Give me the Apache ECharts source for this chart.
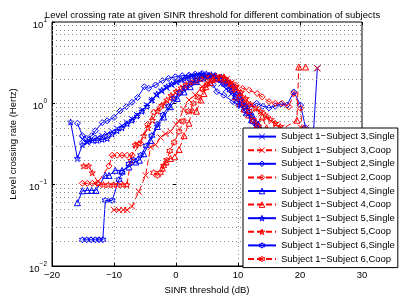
<!DOCTYPE html>
<html><head><meta charset="utf-8">
<script src="https://cdn.jsdelivr.net/npm/echarts@6/dist/echarts.min.js"></script>
<style>html,body{margin:0;padding:0;background:#fff}#c{width:399px;height:300px}</style>
</head><body><div id="c"></div>
<script>
var titleText = 'Level crossing rate at given SINR threshold for different combination of subjects';
var xTicks = [-20, -10, 0, 10, 20, 30];
var yTicks = [0.01, 0.1, 1, 10];

var seriesNames = ['Subject 1\u2212Subject 3,Single','Subject 1\u2212Subject 3,Coop','Subject 1\u2212Subject 2,Single','Subject 1\u2212Subject 2,Coop','Subject 1\u2212Subject 4,Single','Subject 1\u2212Subject 4,Coop','Subject 1\u2212Subject 5,Single','Subject 1\u2212Subject 5,Coop','Subject 1\u2212Subject 6,Single','Subject 1\u2212Subject 6,Coop'];

var xS3Single = [-15.1,-14.3,-13.5,-12.7,-11.9,-11.1,-10.3,-9.5,-8.7,-7.9,-7.1,-6.3,-5.5,-4.7,-3.9,-3.1,-2.3,-1.5,-0.7,0.1,0.9,1.7,2.5,3.3,4.1,4.9,5.7,6.5,7.3,8.1,8.9,9.7,10.5,11.3,12.1,12.9,13.7,14.5,15.3,16.1,21.9,22.8];
var yS3Single = [0.36,0.33,0.35,0.38,0.4,0.42,0.45,0.49,0.53,0.58,0.64,0.72,0.82,0.95,1.1,1.25,1.4,1.55,1.7,1.82,1.95,2.05,2.15,2.22,2.25,2.2,2.1,1.95,1.75,1.5,1.3,1.1,0.92,0.76,0.62,0.5,0.42,0.35,0.3,0.26,0.2,2.7];

var xS3Coop = [-10.0,-9.2,-8.5,-7.9,-7.1,-6.0,-4.9,-4.1,-3.3,-2.5,-1.7,-0.9,0.0,0.45,1.2,2.1,3.1,4.2,5.0,5.8,6.6,7.4,8.2,9.0,9.8,10.6,11.4,12.2,13.0,13.8,14.6,15.4,16.2,17.0,17.8,20.2,21.0,21.8,22.8];
var yS3Coop = [0.049,0.049,0.049,0.049,0.054,0.082,0.13,0.29,0.31,0.38,0.42,0.45,0.55,0.6,0.85,1.1,1.27,1.6,1.8,1.95,2.05,2.1,2.0,1.8,1.55,1.3,1.1,0.95,0.85,0.75,0.66,0.6,0.55,0.5,0.45,0.5,0.5,'-',2.7];

var xS2Single = [-15.9,-15.1,-14.4,-13.6,-13.0,-11.9,-11.1,-10.0,-9.0,-8.0,-7.1,-6.2,-5.1,-4.4,-3.3,-2.2,-1.2,-0.1,1.0,2.1,3.1,4.2,5.2,6.0,6.6,7.7,9.2,10.1,11.0,12.0,13.0,14.0,15.0,16.0,16.9,17.9,19.0,20.1,20.9,21.6];
var yS2Single = [0.57,0.4,0.37,0.4,0.46,0.58,0.61,0.67,0.81,0.91,1.03,1.18,1.6,1.53,1.68,1.9,2.03,2.12,2.19,2.22,2.29,2.33,2.1,1.7,1.39,1.26,1.05,0.95,0.83,0.9,1.0,0.92,0.88,0.92,0.98,0.95,1.38,0.95,0.5,0.2];

var xS2Coop = [-15.1,-14.3,-13.5,-12.7,-10.8,-10.3,-9.5,-8.7,-7.9,-7.1,-5.7,-4.6,-3.6,-2.5,-1.6,-0.6,0.4,1.3,2.2,3.1,4.0,4.9,5.8,6.7,7.6,8.5,9.6,10.7,11.8,13.1,13.9,15.0,16.0,17.1,18.2,19.0,20.1,20.5];
var yS2Coop = [0.104,0.104,0.104,0.104,0.17,0.23,0.23,0.23,0.23,0.23,0.32,0.55,0.78,0.9,1.0,1.15,1.35,1.55,1.7,1.9,2.0,2.1,2.1,2.0,1.85,1.75,1.68,1.53,1.45,1.32,1.2,1.05,1.0,1.0,0.91,1.32,0.87,0.3];

var xS4Single = [-15.9,-15.1,-14.3,-13.6,-12.9,-11.4,-10.8,-9.8,-8.7,-7.6,-6.5,-5.9,-5.2,-4.1,-3.0,-2.0,-0.9,0.2,1.3,2.3,3.3,4.3,5.3,6.3,7.3,8.3,9.3,10.3,11.3,12.3,13.3,14.3,15.3];
var yS4Single = [0.06,0.084,0.085,0.085,0.085,0.13,0.13,0.15,0.15,0.165,0.19,0.2,0.24,0.35,0.52,0.68,0.91,1.15,1.38,1.6,1.85,2.05,2.2,2.2,2.1,1.9,1.6,1.25,0.95,0.72,0.55,0.42,0.33];

var xS4Coop = [-2.2,-1.6,-0.9,-0.2,0.5,1.3,2.1,2.6,3.3,4.0,4.5,4.8,5.5,6.3,7.0,7.7,8.4,9.0,9.6,10.3,11.0,11.7,12.4,13.1,13.9,14.6,15.3,19.5,19.8,20.9];
var yS4Coop = [0.16,0.19,0.21,0.22,0.27,0.4,0.57,0.83,0.8,1.1,1.32,1.6,1.8,2.0,2.1,2.1,1.9,1.5,1.2,1.0,0.85,0.72,0.62,0.55,0.68,0.5,0.4,0.62,2.8,2.8];

var xS5Single = [-17.0,-15.9,-15.1,-14.3,-13.5,-12.7,-11.9,-11.1,-10.3,-9.5,-8.7,-7.9,-7.1,-6.3,-5.5,-4.7,-3.9,-3.1,-2.3,-1.5,-0.7,0.1,0.9,1.7,2.5,3.3,4.1,4.9,5.7,6.5,7.3,8.1,8.9,9.7,10.5,11.3,12.1,12.9,13.7,14.5,15.3];
var yS5Single = [0.59,0.21,0.31,0.34,0.35,0.35,0.36,0.37,0.42,0.46,0.5,0.56,0.62,0.7,0.8,0.92,1.1,1.3,1.45,1.6,1.72,1.85,1.95,2.05,2.12,2.2,2.28,2.3,2.25,2.15,2.0,1.8,1.55,1.3,1.1,0.9,0.72,0.58,0.47,0.38,0.3];

var xS5Coop = [-14.9,-14.1,-13.5,-12.5,-11.7,-10.9,-10.1,-9.4,-8.6,-7.9,-7.3,-6.6,-6.0,-5.2,-4.5,-3.8,-3.0,-2.3,-1.5,-0.8,0.0,0.8,1.6,2.4,3.2,4.0,4.8,5.6,6.4,7.2,8.0,8.8,9.6,10.4,11.2,12.0,12.8,13.6,14.4,15.2,16.0,16.8,17.6];
var yS5Coop = [0.17,0.17,0.14,0.104,0.1,0.1,0.1,0.1,0.1,0.1,0.2,0.31,0.32,0.4,0.5,0.62,0.8,0.95,1.1,1.25,1.4,1.55,1.7,1.8,1.9,2.0,2.1,2.15,2.15,2.1,2.0,1.8,1.6,1.35,1.15,0.98,0.88,0.8,0.72,0.64,0.57,0.52,0.45];

var xS6Single = [-15.1,-14.4,-13.7,-13.0,-12.4,-11.8,-11.4,-10.3,-9.2,-8.7,-7.6,-6.8,-5.7,-4.8,-3.9,-3.0,-2.1,-1.2,-0.3,0.6,1.5,2.4,3.3,4.2,5.1,6.0,6.9,7.8,8.7,9.6,10.5,11.4,12.3,13.2,14.1,15.0];
var yS6Single = [0.021,0.021,0.021,0.021,0.021,0.021,0.064,0.064,0.115,0.14,0.18,0.2,0.23,0.3,0.4,0.55,0.72,0.92,1.15,1.35,1.55,1.75,1.9,2.05,2.15,2.1,1.95,1.7,1.45,1.2,0.95,0.75,0.6,0.47,0.38,0.3];

var xS6Coop = [-3.6,-3.0,-2.5,-2.0,-1.5,-1.0,-0.3,0.5,1.2,2.0,2.8,3.5,4.3,5.0,5.8,6.5,7.3,8.0,8.8,9.5,10.3,11.0,11.8,12.5,13.3,14.0,14.8];
var yS6Coop = [0.14,0.13,0.14,0.17,0.2,0.26,0.33,0.45,0.6,0.8,1.0,1.2,1.5,1.7,1.9,2.0,2.0,1.9,1.7,1.5,1.2,1.0,0.8,0.62,0.52,0.45,0.38];

var xs = [xS3Single,xS3Coop,xS2Single,xS2Coop,xS4Single,xS4Coop,xS5Single,xS5Coop,xS6Single,xS6Coop];
var ys = [yS3Single,yS3Coop,yS2Single,yS2Coop,yS4Single,yS4Coop,yS5Single,yS5Coop,yS6Single,yS6Coop];

var SYM = {
  x: 'path://M0,0L10,10M0,10L10,0',
  diamond: 'path://M5,0L10,5L5,10L0,5Z',
  triangle: 'path://M5,0L10,9L0,9Z',
  star: 'path://M5,0L6.18,3.38L9.76,3.45L6.9,5.62L7.94,9.05L5,7L2.06,9.05L3.1,5.62L0.24,3.45L3.82,3.38Z',
  hex: 'path://M5,0L6.44,2.5L9.33,2.5L7.89,5L9.33,7.5L6.44,7.5L5,10L3.56,7.5L0.67,7.5L2.11,5L0.67,2.5L3.56,2.5Z'
};
var symOrder = ['x','x','diamond','diamond','triangle','triangle','star','star','hex','hex'];
var FONT = 'Liberation Sans';
var GRIDC = '#8a8a8a';

var series = [];
for (var i = 0; i < 10; i++) {
  var coop = (i % 2 === 1);
  var col = coop ? '#ff0000' : '#0000ff';
  var data = [];
  for (var k = 0; k < xs[i].length; k++) data.push([xs[i][k], ys[i][k]]);
  series.push({
    name: seriesNames[i], type: 'line', data: data, z: 3,
    symbol: SYM[symOrder[i]], symbolSize: 6, showAllSymbol: true,
    connectNulls: false,
    itemStyle: { color: 'rgba(0,0,0,0)', borderColor: col, borderWidth: 1 },
    lineStyle: { color: col, width: 1, type: coop ? [6, 3] : 'solid' },
    emphasis: { disabled: true }, animation: false
  });
}
// minor log grid lines (axis decoration)
var minorVals = [];
for (var d = -2; d < 1; d++) for (var m = 2; m <= 9; m++) minorVals.push(m * Math.pow(10, d));
series.push({
  name: 'grid', type: 'line', data: [], z: 1, silent: true,
  markLine: { silent: true, symbol: 'none', animation: false, label: { show: false },
    lineStyle: { color: GRIDC, width: 1, type: [1, 3] },
    data: minorVals.map(function (v) { return { yAxis: v }; }) }
});

function minusify(s) { return String(s).replace('-', '\u2212'); }

var chart = echarts.init(document.getElementById('c'), null, { renderer: 'canvas' });
chart.setOption({
  animation: false,
  backgroundColor: '#fff',
  textStyle: { fontFamily: FONT },
  title: { text: titleText, left: 40, top: 5,
    textStyle: { fontSize: 9.5, fontWeight: 'normal', color: '#000', fontFamily: FONT } },
  grid: { left: 52, right: 37, top: 22, bottom: 34, show: true, borderColor: '#000', borderWidth: 1, containLabel: false },
  legend: {
    data: seriesNames, orient: 'vertical', left: 243, top: 128,
    backgroundColor: '#fff', borderColor: '#000', borderWidth: 1,
    padding: [3, 3, 3, 4], itemWidth: 28, itemHeight: 7, itemGap: 2.4,
    itemStyle: { color: 'rgba(0,0,0,0)', borderWidth: 1 },
    textStyle: { fontSize: 9.5, color: '#000', fontFamily: FONT, lineHeight: 11.2 },
    selectedMode: false, z: 10
  },
  xAxis: [{
    type: 'value', min: -20, max: 30, interval: 10,
    name: 'SINR threshold (dB)', nameLocation: 'middle', nameGap: 18,
    nameTextStyle: { fontSize: 9.5, color: '#000', fontFamily: FONT },
    axisLine: { onZero: false, lineStyle: { color: '#000' } },
    axisTick: { inside: true, length: 3, lineStyle: { color: '#000' } },
    axisLabel: { fontSize: 9.5, color: '#000', margin: 4, fontFamily: FONT,
      formatter: function (v) { return xTicks.indexOf(v) >= 0 ? minusify(v) : ''; } },
    splitLine: { show: true, lineStyle: { color: GRIDC, width: 1, type: [1, 3] } }
  }, {
    type: 'value', min: -20, max: 30, interval: 10, position: 'top',
    axisLine: { show: false }, axisTick: { inside: true, length: 3, lineStyle: { color: '#000' } },
    axisLabel: { show: false }, splitLine: { show: false }
  }],
  yAxis: [{
    type: 'log', logBase: 10, min: 0.01, max: 10,
    name: 'Level crossing rate (Hertz)', nameLocation: 'middle', nameGap: 30,
    nameTextStyle: { fontSize: 9.5, color: '#000', fontFamily: FONT },
    axisLine: { onZero: false, lineStyle: { color: '#000' } },
    axisTick: { inside: true, length: 3, lineStyle: { color: '#000' } },
    axisLabel: { color: '#000', margin: 5, fontFamily: FONT,
      formatter: function (v) {
        var e = Math.round(Math.log(v) / Math.LN10);
        return '{b|10}{s|' + minusify(e) + '}';
      },
      rich: { b: { fontSize: 9.5, color: '#000', fontFamily: FONT, padding: [6, 0, 0, 0] },
              s: { fontSize: 6.5, color: '#000', fontFamily: FONT, padding: [0, 0, 4, 0] } } },
    splitLine: { show: true, lineStyle: { color: GRIDC, width: 1, type: [1, 3] } }
  }, {
    type: 'log', logBase: 10, min: 0.01, max: 10, position: 'right',
    axisLine: { show: false }, axisTick: { inside: true, length: 3, lineStyle: { color: '#000' } },
    axisLabel: { show: false }, splitLine: { show: false }
  }],
  series: series
});
</script>
</body></html>
